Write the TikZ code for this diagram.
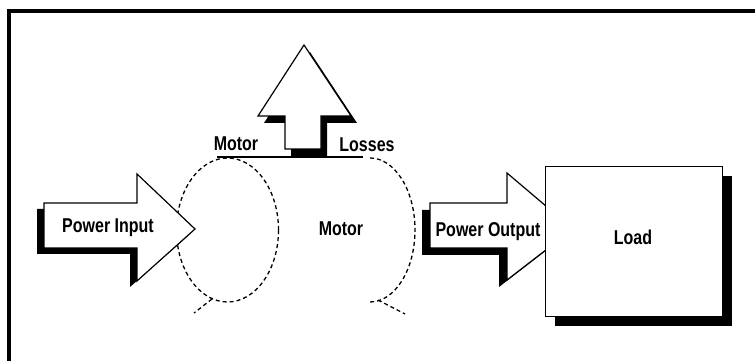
\documentclass[tikz,border=0pt]{standalone}
\usepackage{fontspec}
\newfontfamily\lblfont[FakeStretch=0.8]{Liberation Sans Bold}
\begin{document}
\begin{tikzpicture}[x=1pt,y=1pt,
  outl/.style={draw=black, line width=1.2pt, fill=white, line join=miter},
  shad/.style={fill=black},
  dsh/.style={line width=1.3pt, dash pattern=on 4pt off 3pt},
  lbl/.style={font=\lblfont\fontsize{20}{24}\selectfont, inner sep=0pt, anchor=base}]
\useasboundingbox (0,0) rectangle (755,361);
\fill[white] (0,0) rectangle (755,361);
% frame
\draw[line width=4pt] (9,0) -- (9,350) -- (755,350);
% motor cylinder
\draw[dsh] (227.5,131) ellipse[x radius=51, y radius=72];
\draw[dsh] (370,203) arc[start angle=90, end angle=-90, x radius=45, y radius=72];
\draw[line width=1.2pt] (217,204) -- (363,204);
\coordinate (lt1) at (212,62); \coordinate (lt2) at (194,48);
\coordinate (rt1) at (378,61); \coordinate (rt2) at (405,47);
\draw[dsh] (lt1) -- (lt2);
\draw[dsh] (rt1) -- (rt2);
% losses arrow (up)
\fill[shad, shift={(6,-7)}] (285,212) -- (285,245) -- (258,245) -- (304,316) -- (351,245) -- (321,245) -- (321,212) -- cycle;
\draw[outl] (285,212) -- (285,245) -- (258,245) -- (304,316) -- (351,245) -- (321,245) -- (321,212) -- cycle;
% power input arrow
\fill[shad] (37,152) -- (37,107) -- (130,107) -- (130,74) -- (188,125) -- (137,152) -- cycle;
\draw[outl] (44,158) -- (137,158) -- (137,187) -- (195,132) -- (137,80) -- (137,113) -- (44,113) -- cycle;
% power output arrow
\fill[shad] (422,151) -- (422,106) -- (499,106) -- (499,74) -- (565,125) -- (507,151) -- cycle;
\draw[outl] (430,158) -- (507,158) -- (507,188) -- (573,132) -- (507,81) -- (507,113) -- (430,113) -- cycle;
% load box
\fill[shad] (555,185) rectangle (732,35);
\draw[outl, line width=1pt] (545,194) rectangle (722,44);
% labels
\node[lbl] (pin) at (108,128) {Power Input};
\node[lbl] (pout) at (488,124) {Power Output};
\node[lbl] (mtop) at (236,210) {Motor};
\node[lbl] (loss) at (367,209) {Losses};
\node[lbl] (mot) at (341,125) {Motor};
\node[lbl] (load) at (633,116) {Load};
\end{tikzpicture}
\end{document}
